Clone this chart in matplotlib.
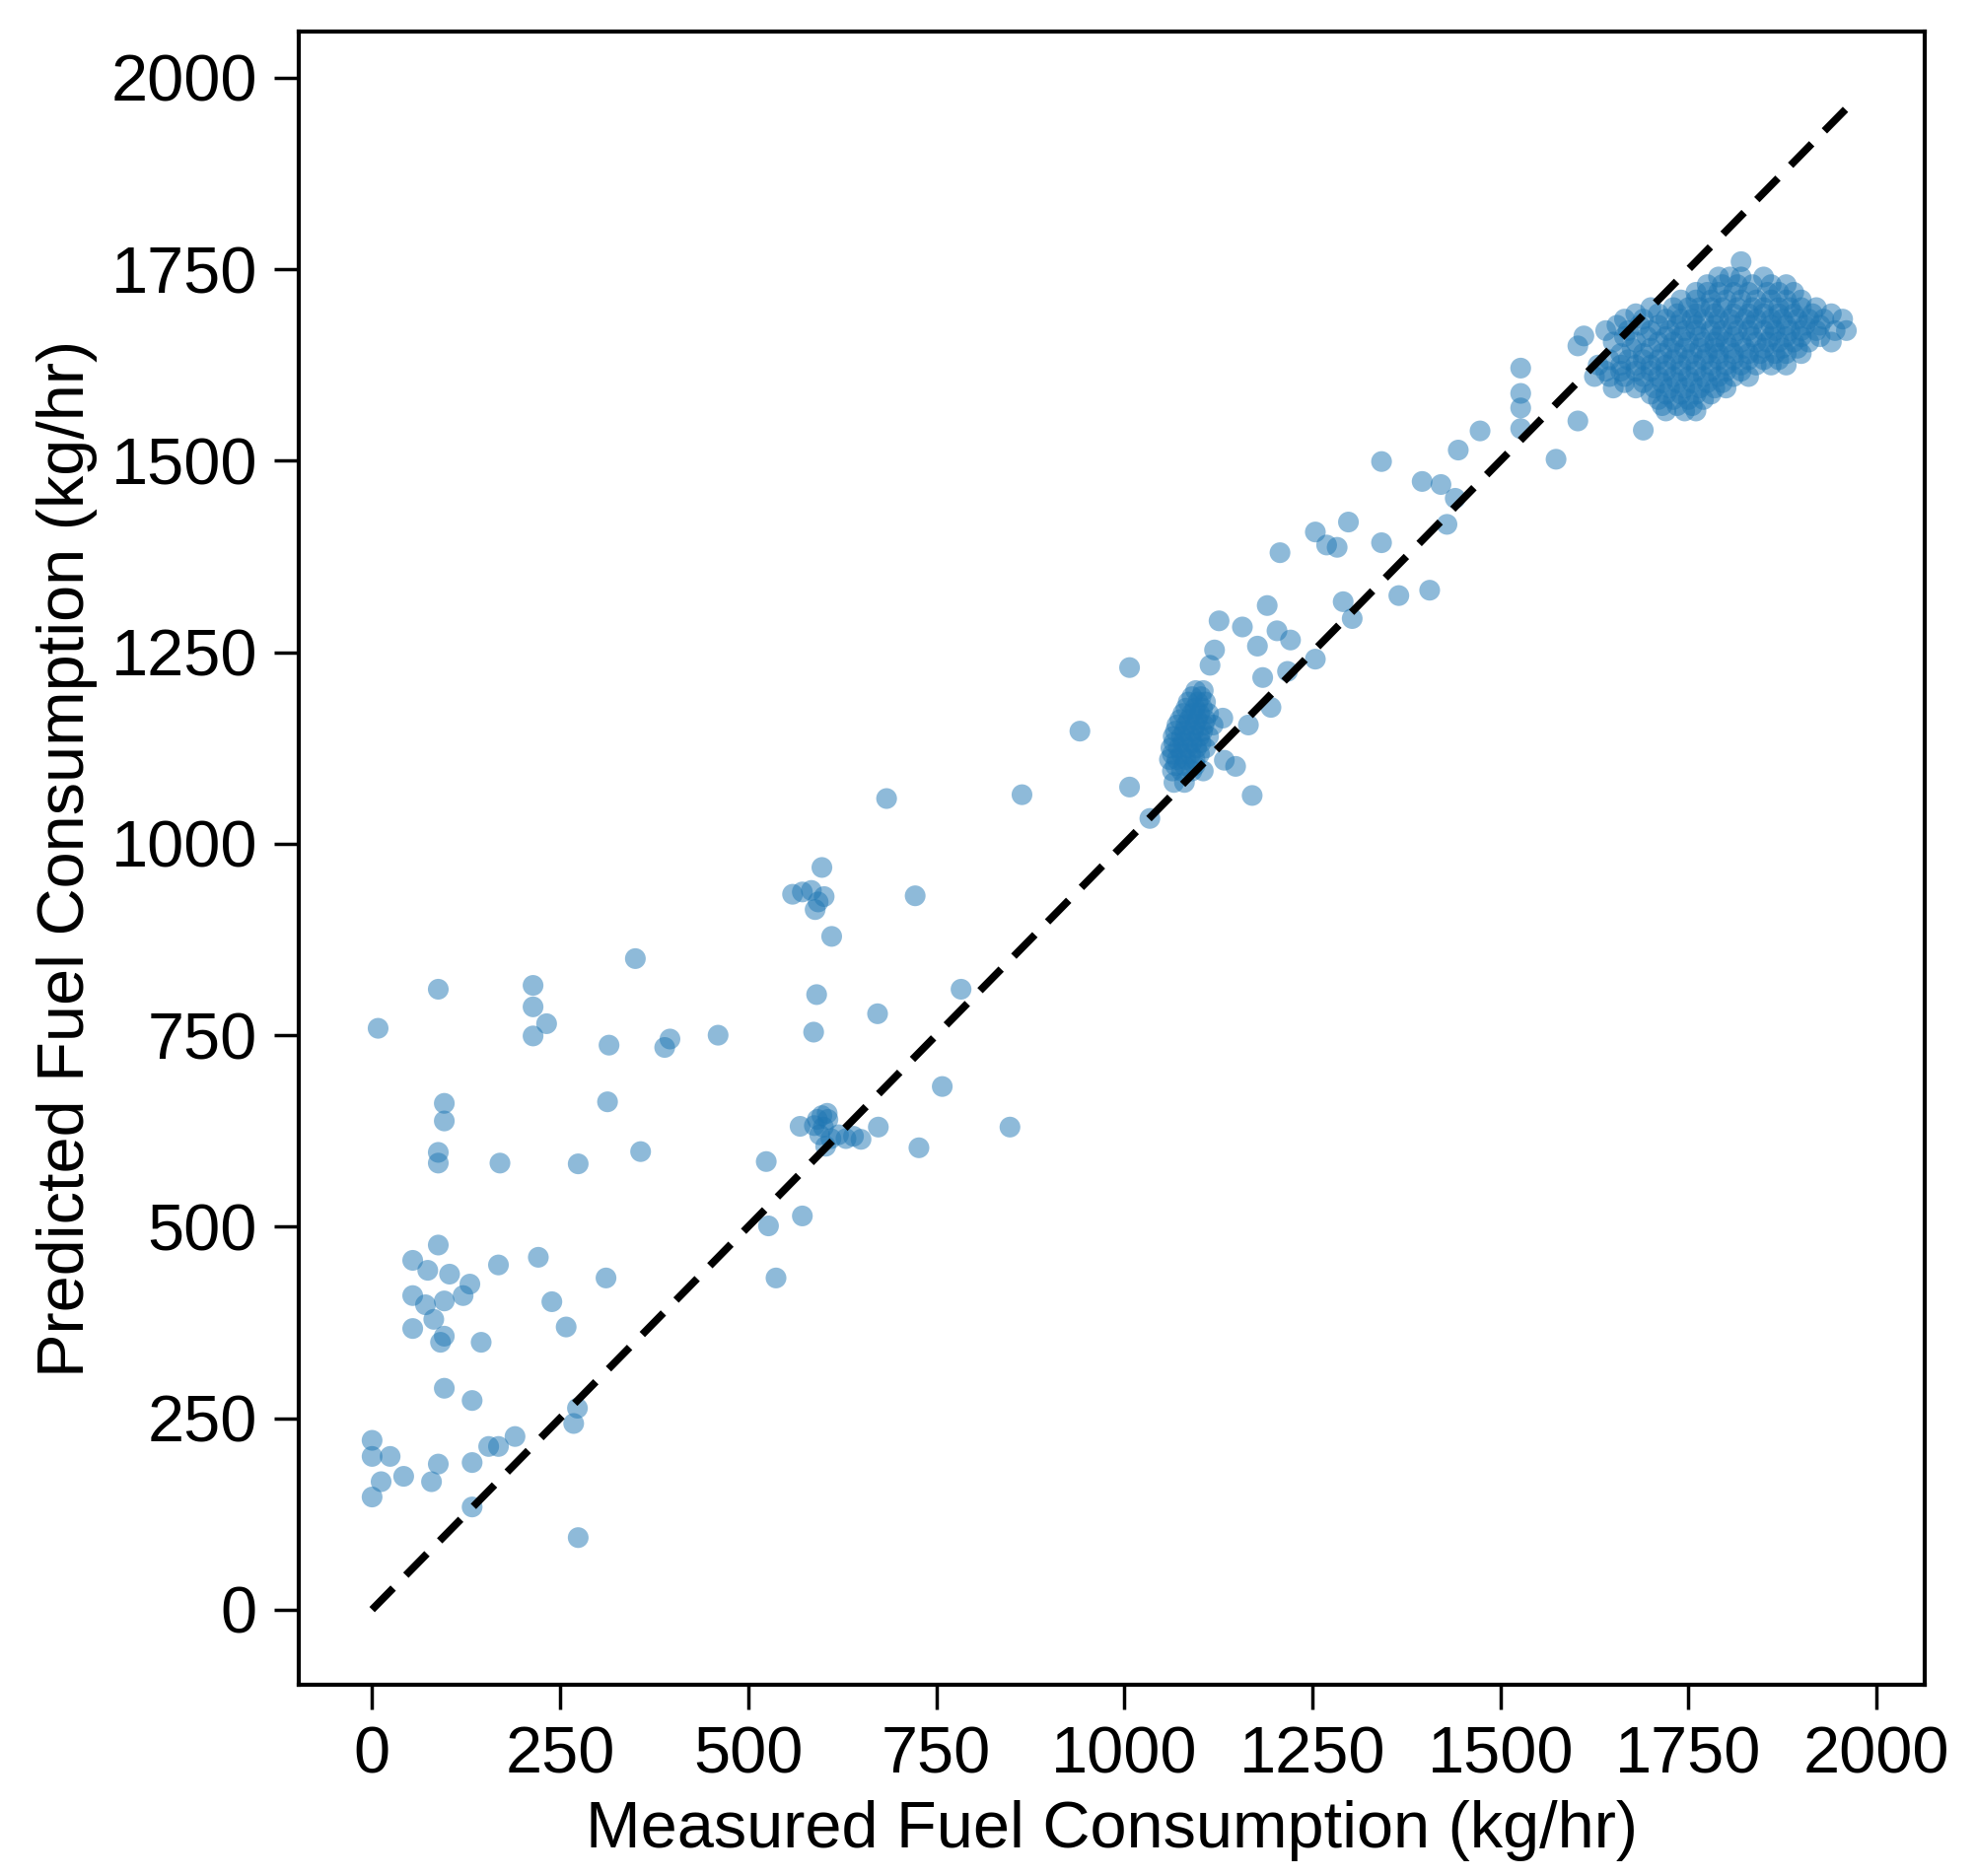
import matplotlib
matplotlib.use("Agg")
import matplotlib.pyplot as plt

plt.rcParams['font.family'] = ['Liberation Sans', 'DejaVu Sans']

scatter_x = [0,0,0,24,12,42,79,88,8,88,96,96,88,88,170,88,54,74,103,54,71,96,121,130,168,82,54,91,96,145,96,133,133,155,168,190,133,
             214,214,232,214,221,239,258,273,268,274,274,313,315,311,350,357,389,396,460,524,527,537,572,559,572,584,598,593,589,601,611,591,587,569,
             673,727,758,783,848,672,722,684,864,941,1007,1007,1034,1114,1126,1120,1157,1177,1190,1184,1203,1221,1217,1195,1207,1254,1269,1283,1298,
             1254,1291,1303,1342,1365,1406,1429,1342,1396,1421,1440,1444,1473,1527,1527,1527,1527,1574,1603,1603,1611,1133,1148,1170,1165,1131]
scatter_y = [221,200,147,200,167,174,167,190,759,810,661,638,597,583,583,476,456,443,438,410,398,403,410,425,450,379,367,349,357,349,289,273,192,213,213,226,134,
             815,787,765,749,460,402,369,263,243,94,582,663,737,433,850,598,734,745,750,585,501,433,514,934,937,939,969,924,914,931,879,803,754,631,
             630,603,683,810,630,778,932,1059,1064,1147,1230,1074,1033,1233,1291,1253,1283,1258,1311,1217,1278,1266,1225,1178,1380,1407,1390,1387,1420,
             1241,1316,1294,1393,1324,1331,1417,1499,1473,1469,1451,1514,1539,1621,1588,1569,1542,1502,1552,1650,1663,1109,1101,1063,1155,1164]

small_cluster_x = [592,598,605,600,595,610,620,630,640,650,603,588,606]
small_cluster_y = [640,645,648,630,620,615,620,615,618,614,605,632,640]

mid_cluster_rows = {
    1200: [1095, 1105],
    1192: [1090, 1102],
    1185: [1085, 1098, 1108],
    1177: [1082, 1094, 1104],
    1170: [1078, 1090, 1100, 1112],
    1162: [1074, 1086, 1097, 1108],
    1155: [1070, 1082, 1094, 1106, 1118],
    1147: [1068, 1080, 1092, 1104],
    1140: [1065, 1076, 1088, 1100, 1112],
    1132: [1066, 1078, 1090, 1102],
    1125: [1062, 1072, 1084, 1096, 1108],
    1117: [1064, 1076, 1088, 1100],
    1110: [1060, 1070, 1082, 1094],
    1102: [1068, 1080, 1094],
    1095: [1064, 1076, 1090, 1105],
    1080: [1066, 1080],
}

big_cluster_rows = {
    1760: [1820],
    1740: [1790, 1805, 1820, 1850],
    1730: [1775, 1795, 1815, 1835, 1860, 1880],
    1720: [1760, 1775, 1790, 1810, 1830, 1855, 1870, 1890],
    1710: [1740, 1760, 1780, 1800, 1820, 1840, 1860, 1880, 1900],
    1700: [1700, 1730, 1750, 1765, 1780, 1795, 1815, 1835, 1850, 1870, 1885, 1900, 1920],
    1692: [1680, 1710, 1735, 1760, 1785, 1810, 1830, 1850, 1870, 1890, 1915, 1940],
    1685: [1665, 1690, 1720, 1740, 1755, 1770, 1790, 1805, 1825, 1840, 1860, 1875, 1895, 1910, 1930, 1955],
    1677: [1655, 1685, 1710, 1735, 1760, 1785, 1810, 1835, 1860, 1880, 1905, 1925],
    1670: [1640, 1670, 1700, 1725, 1745, 1760, 1780, 1795, 1815, 1830, 1850, 1865, 1885, 1900, 1920, 1945, 1960],
    1662: [1665, 1695, 1720, 1740, 1765, 1790, 1810, 1835, 1860, 1880, 1900, 1925],
    1655: [1650, 1680, 1710, 1730, 1750, 1770, 1785, 1800, 1820, 1840, 1855, 1870, 1890, 1910, 1940],
    1647: [1675, 1700, 1725, 1745, 1765, 1785, 1805, 1825, 1850, 1875, 1895],
    1640: [1660, 1690, 1715, 1735, 1755, 1775, 1790, 1810, 1830, 1845, 1865, 1880, 1900],
    1632: [1645, 1670, 1690, 1710, 1730, 1750, 1770, 1790, 1810, 1830, 1850, 1870],
    1625: [1630, 1660, 1680, 1700, 1720, 1740, 1760, 1780, 1800, 1820, 1840, 1860, 1880],
    1617: [1640, 1660, 1680, 1700, 1720, 1740, 1760, 1780, 1800, 1820],
    1610: [1625, 1645, 1665, 1690, 1710, 1730, 1750, 1770, 1790, 1810, 1830],
    1602: [1665, 1690, 1715, 1735, 1755, 1775, 1795],
    1595: [1650, 1680, 1705, 1725, 1745, 1765, 1785, 1800],
    1587: [1700, 1720, 1740, 1760, 1780],
    1580: [1710, 1730, 1750, 1770],
    1572: [1715, 1735, 1755],
    1565: [1720, 1745, 1760],
    1540: [1690],
}

ticks = [0, 250, 500, 750, 1000, 1250, 1500, 1750, 2000]
line_end = 1960

xs = list(scatter_x) + list(small_cluster_x)
ys = list(scatter_y) + list(small_cluster_y)
for rows in (mid_cluster_rows, big_cluster_rows):
    for yv, xl in rows.items():
        xs += xl
        ys += [yv] * len(xl)

fig = plt.figure(figsize=(20.04, 19.03), dpi=100)
ax = fig.add_axes([0.151, 0.102, 0.823, 0.881])
ax.scatter(xs, ys, s=230, color="#1f77b4", alpha=0.5, edgecolors="none")
ax.plot([0, line_end], [0, line_end], color="k", ls=(0, (4, 2.4)), lw=5.5)
ax.set_xlim(-98, 2064)
ax.set_ylim(-98, 2060)
ax.set_xticks(ticks)
ax.set_yticks(ticks)
ax.tick_params(labelsize=48, length=18, width=2.5, pad=12)
for s in ax.spines.values():
    s.set_linewidth(3)
ax.set_xlabel("Measured Fuel Consumption (kg/hr)", fontsize=48, labelpad=10)
ax.set_ylabel("Predicted Fuel Consumption (kg/hr)", fontsize=48, labelpad=10)
fig.savefig("out.png", dpi=100)
